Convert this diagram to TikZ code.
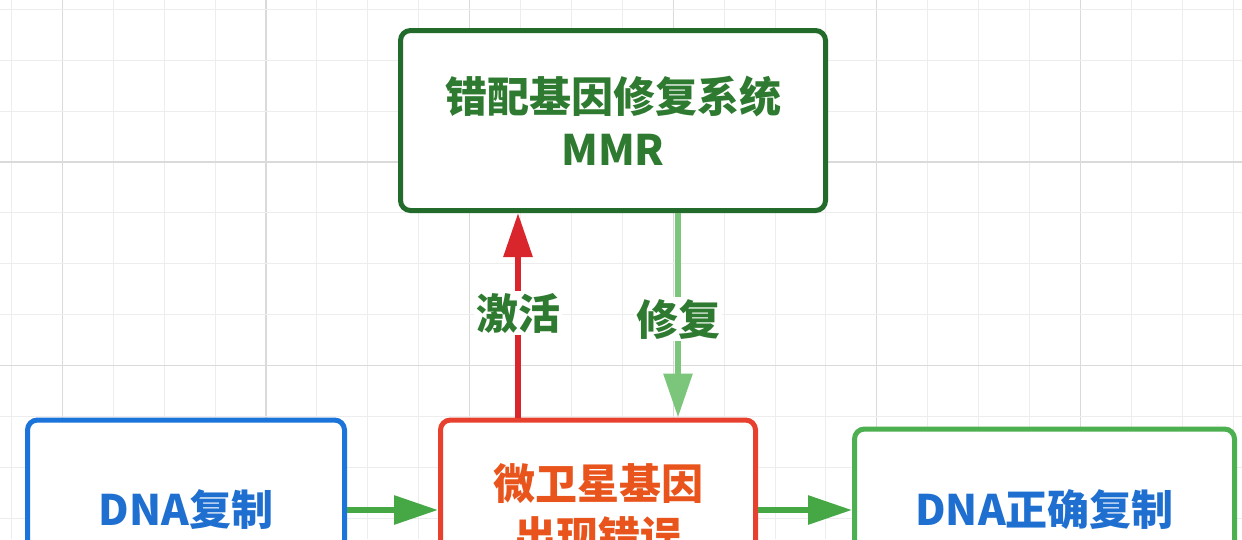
\documentclass[tikz,border=0pt]{standalone}
\usepackage{fontspec}
\setmainfont{Noto Sans CJK SC}
\usetikzlibrary{arrows.meta}
\definecolor{gridminor}{HTML}{EDEDED}
\definecolor{gridmajor}{HTML}{DADADA}
\definecolor{topgreen}{HTML}{226B2B}
\definecolor{txtgreen}{HTML}{2E7A30}
\definecolor{boxblue}{HTML}{1B74D9}
\definecolor{txtblue}{HTML}{1F6FD1}
\definecolor{boxred}{HTML}{E8402F}
\definecolor{txtred}{HTML}{E8541C}
\definecolor{boxgreen}{HTML}{4CAF50}
\definecolor{arrred}{HTML}{D8262C}
\definecolor{arrlight}{HTML}{7BC67B}
\definecolor{arrgreen}{HTML}{45A845}
\tikzset{
  box/.style={draw, line width=5pt, rounded corners=10pt, fill=white, align=center,
    font=\fontsize{42}{53}\selectfont\bfseries, inner sep=0pt},
  conn/.style={line width=6pt, -{Triangle[length=44pt,width=28pt]}},
  lbl/.style={fill=white, inner sep=2pt, text=txtgreen, font=\fontsize{42}{50}\selectfont\bfseries}
}
\begin{document}
\begin{tikzpicture}[x=1pt,y=-1pt]
\useasboundingbox (0,0) rectangle (1242,539);
\fill[white] (0,0) rectangle (1242,539);
\begin{scope}
\clip (0,0) rectangle (1242,539);
% grid
\foreach \k in {-5,...,19}{
  \pgfmathsetmacro{\xx}{266+\k*50.9}
  \pgfmathtruncatemacro{\m}{mod(\k+20,4)}
  \ifnum\m=0
    \draw[gridmajor, line width=1.2pt] (\xx,0) -- (\xx,539);
  \else
    \draw[gridminor, line width=1pt] (\xx,0) -- (\xx,539);
  \fi
}
\foreach \k in {-3,...,7}{
  \pgfmathsetmacro{\yy}{162+\k*50.9}
  \pgfmathtruncatemacro{\m}{mod(\k+20,4)}
  \ifnum\m=0
    \draw[gridmajor, line width=1.2pt] (0,\yy) -- (1242,\yy);
  \else
    \draw[gridminor, line width=1pt] (0,\yy) -- (1242,\yy);
  \fi
}
% boxes
\node[box, draw=topgreen, text=txtgreen, minimum width=425pt, minimum height=180pt] (mmr) at (613,120.5) {错配基因修复系统\\MMR};
\node[box, draw=boxblue, text=txtblue, minimum width=317pt, minimum height=180pt] (rep) at (186,510) {DNA复制};
\node[box, draw=boxred, text=txtred, minimum width=315pt, minimum height=180pt] (err) at (598,510) {微卫星基因\\出现错误};
\node[box, draw=boxgreen, text=txtblue, minimum width=380pt, minimum height=162pt] (ok) at (1044.5,510) {DNA正确复制};
% connectors
\coordinate (ca) at (518,0);
\coordinate (cr) at (678,0);
\draw[conn, arrgreen] (rep.east) -- (err.west);
\draw[conn, arrgreen] (err.east) -- (ok.west);
\draw[conn, arrred] (ca |- err.north) -- node[lbl, pos=0.51] (la) {激活} (ca |- mmr.south);
\draw[conn, arrlight] (cr |- mmr.south) -- node[lbl, pos=0.52] (lr) {修复} (cr |- err.north);
\end{scope}
\end{tikzpicture}
\end{document}
